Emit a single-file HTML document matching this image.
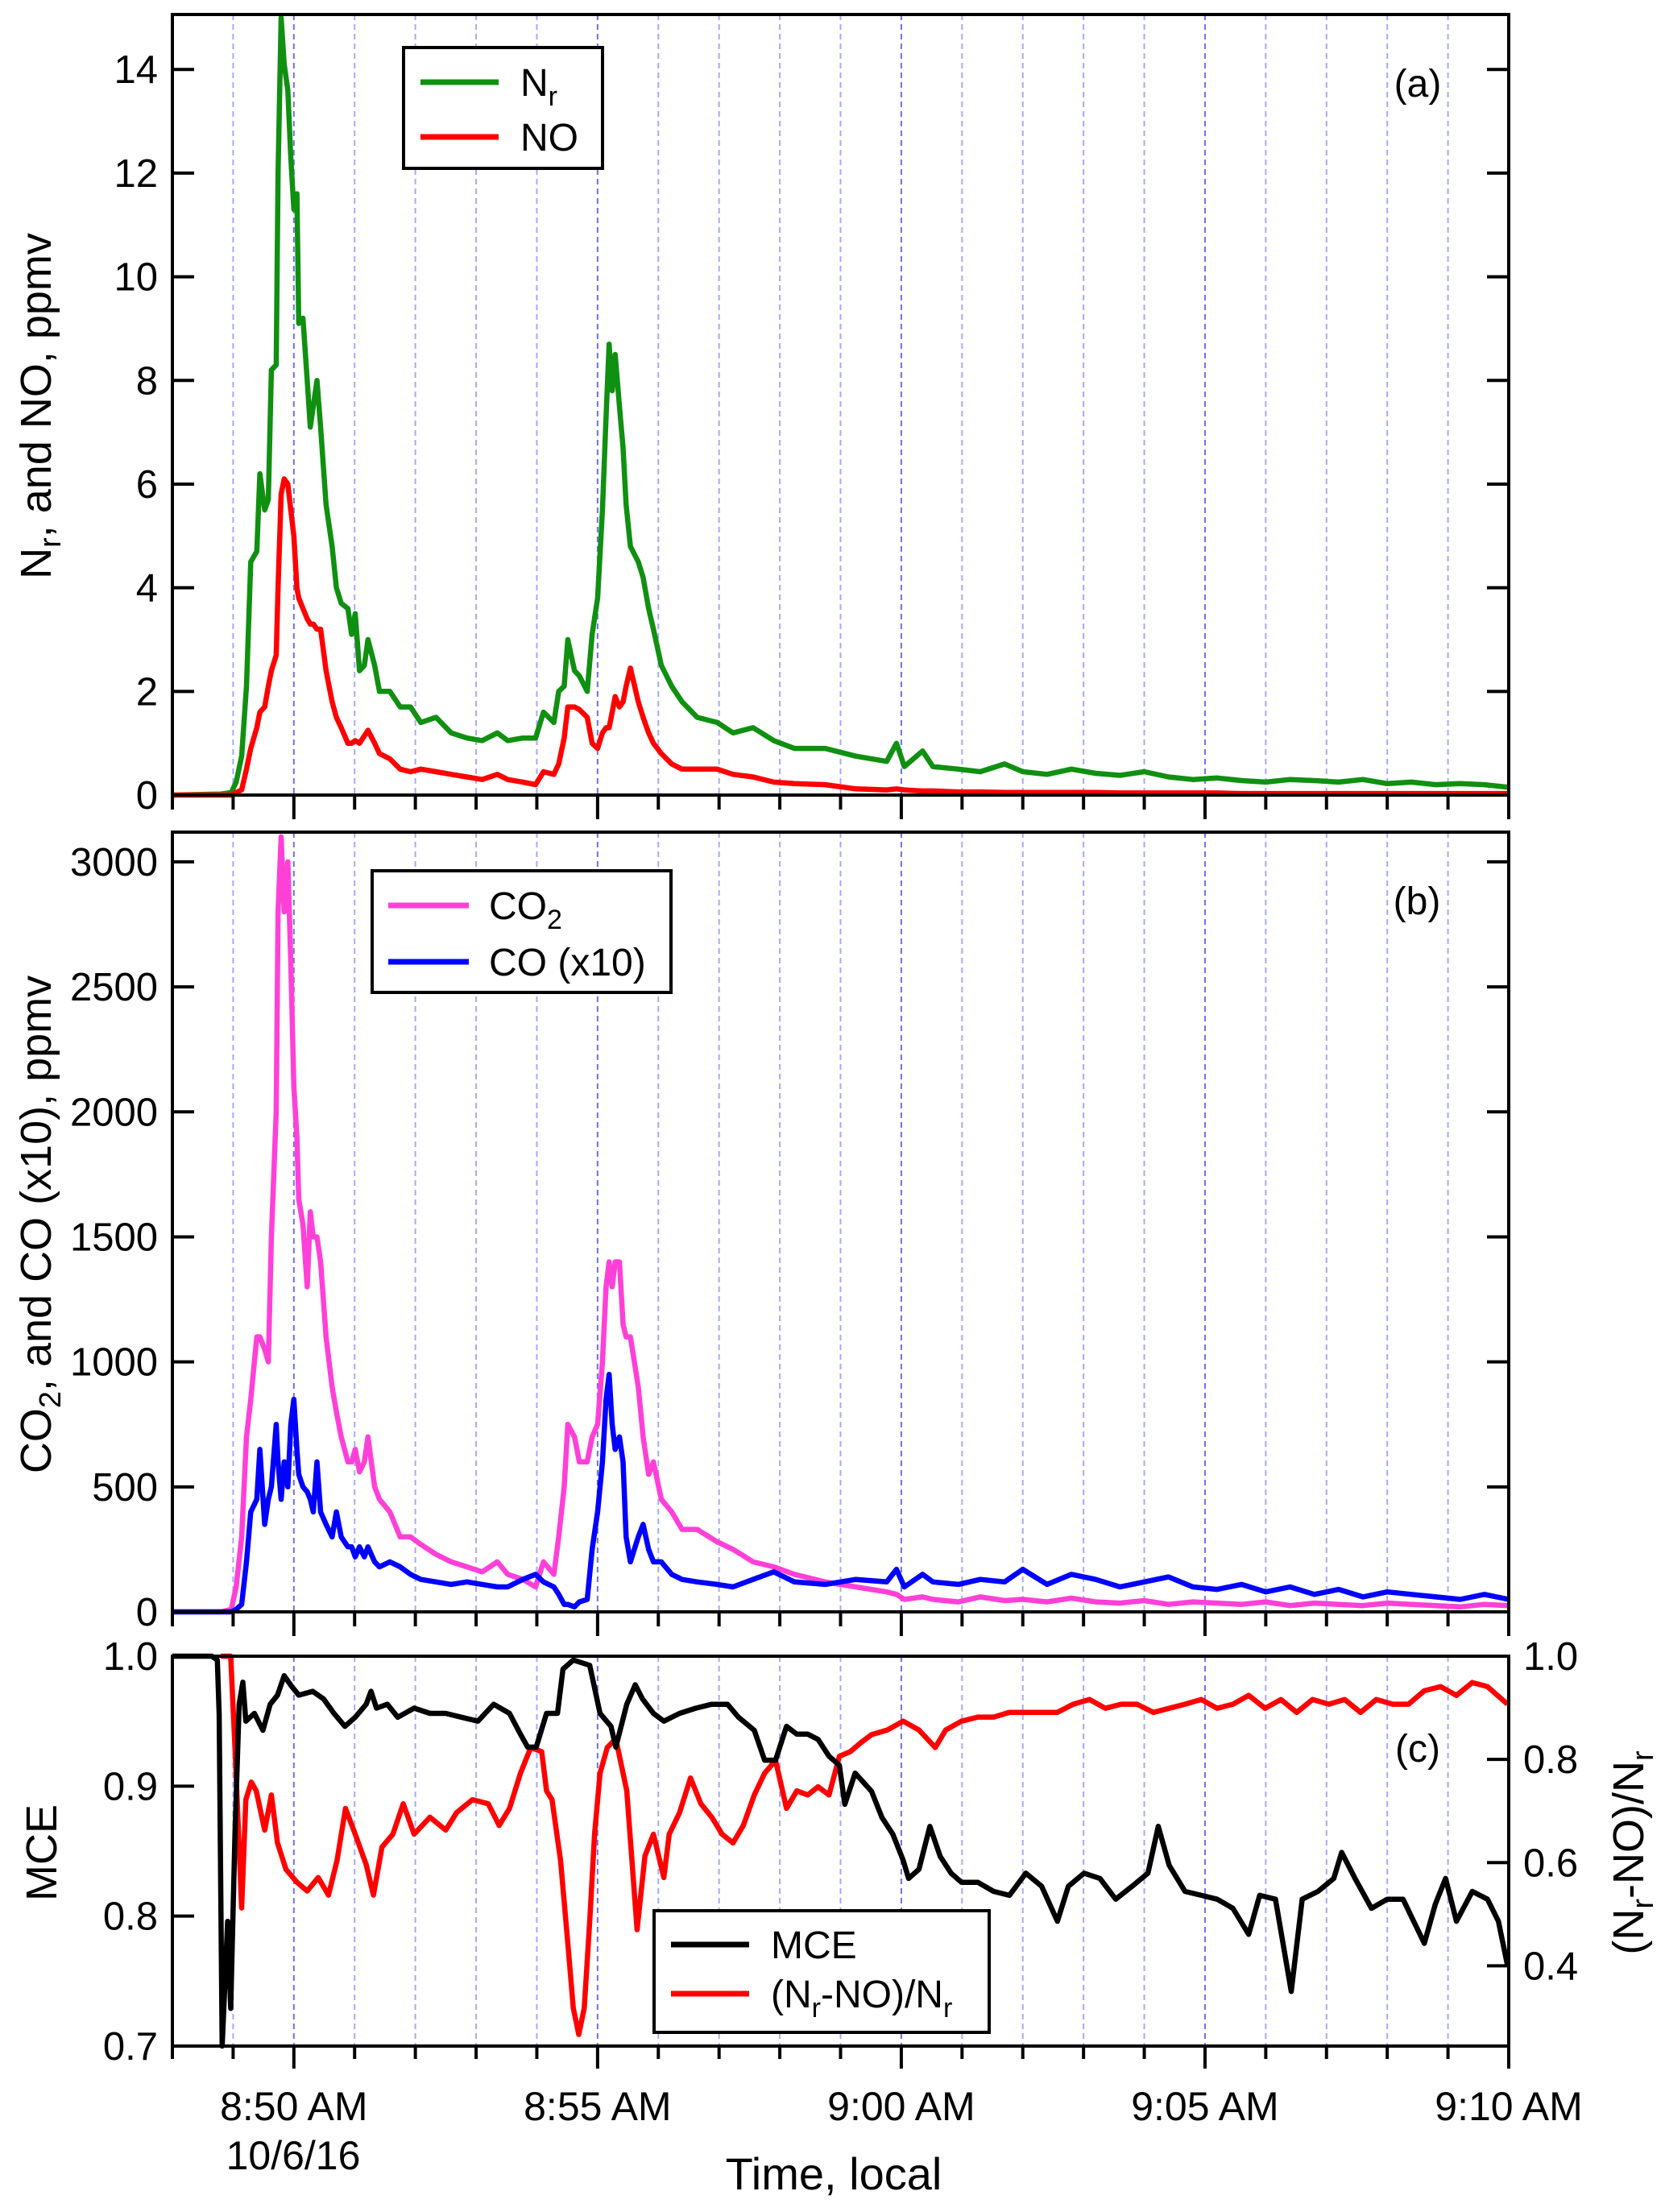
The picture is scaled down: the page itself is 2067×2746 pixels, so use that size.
<!DOCTYPE html>
<html><head><meta charset="utf-8"><style>
html,body{margin:0;padding:0;background:#fff;}
svg{display:block;font-family:"Liberation Sans",Arial,sans-serif;}
</style></head><body>
<svg id="chart" width="2067" height="2746" viewBox="0 0 2067 2746" xmlns="http://www.w3.org/2000/svg">
<g id="grid"></g><g id="series"></g><g id="axes"></g>
<g>
<rect x="501" y="59" width="247" height="150" fill="#fff" stroke="#000" stroke-width="4"/>
<line x1="522" y1="102" x2="619" y2="102" stroke="#109010" stroke-width="7"/>
<text x="646" y="119" font-size="48">N<tspan font-size="34" dy="12">r</tspan></text>
<line x1="522" y1="170" x2="619" y2="170" stroke="#ff0000" stroke-width="7"/>
<text x="646" y="187" font-size="48">NO</text>
</g>
<g>
<rect x="462" y="1081" width="371" height="151" fill="#fff" stroke="#000" stroke-width="4"/>
<line x1="482" y1="1124" x2="582" y2="1124" stroke="#ff40d8" stroke-width="7"/>
<text x="607" y="1141" font-size="48">CO<tspan font-size="34" dy="12">2</tspan></text>
<line x1="482" y1="1194" x2="582" y2="1194" stroke="#0000ff" stroke-width="7"/>
<text x="607" y="1211" font-size="48">CO (x10)</text>
</g>
<g>
<rect x="812" y="2372" width="416" height="151" fill="#fff" stroke="#000" stroke-width="4"/>
<line x1="833" y1="2414" x2="930" y2="2414" stroke="#000" stroke-width="7"/>
<text x="957" y="2431" font-size="48">MCE</text>
<line x1="833" y1="2475" x2="930" y2="2475" stroke="#ff0000" stroke-width="7"/>
<text x="957" y="2492" font-size="48">(N<tspan font-size="34" dy="12">r</tspan><tspan dy="-12">-NO)/N</tspan><tspan font-size="34" dy="12">r</tspan></text>
</g>
<text x="1760" y="120" font-size="48" text-anchor="middle">(a)</text>
<text x="1759" y="1135" font-size="48" text-anchor="middle">(b)</text>
<text x="1760" y="2187" font-size="48" text-anchor="middle">(c)</text>
<text transform="translate(63,504) rotate(-90)" font-size="54" text-anchor="middle">N<tspan font-size="38" dy="12">r</tspan><tspan dy="-12">, and NO, ppmv</tspan></text>
<text transform="translate(63,1520) rotate(-90)" font-size="54" text-anchor="middle">CO<tspan font-size="38" dy="12">2</tspan><tspan dy="-12">, and CO (x10), ppmv</tspan></text>
<text transform="translate(70,2300) rotate(-90)" font-size="54" text-anchor="middle">MCE</text>
<text transform="translate(2040,2300) rotate(-90)" font-size="54" text-anchor="middle">(N<tspan font-size="38" dy="12">r</tspan><tspan dy="-12">-NO)/N</tspan><tspan font-size="38" dy="12">r</tspan></text>
<text x="1035" y="2718" font-size="56" text-anchor="middle">Time, local</text>
<text x="364" y="2693" font-size="50" text-anchor="middle">10/6/16</text>
</svg>
<script>
// times in minutes after 8:48
const tA=[0,0.8,0.97,1.05,1.14,1.22,1.29,1.39,1.44,1.52,1.58,1.63,1.71,1.74,1.79,1.84,1.90,1.95,2.0,2.05,2.08,2.15,2.22,2.27,2.32,2.38,2.44,2.53,2.63,2.70,2.78,2.89,2.95,3.01,3.08,3.16,3.22,3.33,3.41,3.58,3.75,3.92,4.09,4.34,4.59,4.85,5.10,5.35,5.52,5.77,5.98,6.11,6.28,6.36,6.45,6.51,6.62,6.70,6.83,6.91,7.0,7.08,7.14,7.19,7.24,7.29,7.36,7.42,7.47,7.54,7.67,7.75,7.84,7.92,8.05,8.22,8.39,8.64,8.97,9.23,9.56,9.90,10.24,10.75,11.25,11.76,11.92,12.05,12.35,12.52,12.94,13.3,13.7,14.0,14.4,14.8,15.2,15.6,16.0,16.4,16.8,17.2,17.6,18.0,18.4,18.8,19.2,19.6,20.0,20.4,20.8,21.2,21.6,22.0];
const nrVals=[0,0.02,0.05,0.25,0.75,2.1,4.5,4.7,6.2,5.5,5.7,8.2,8.3,12,15,14.1,13.6,12.3,11.3,11.6,9.1,9.2,8.0,7.1,7.5,8.0,7.1,5.6,4.8,4.0,3.7,3.6,3.1,3.5,2.4,2.5,3.0,2.5,2.0,2.0,1.7,1.7,1.4,1.5,1.2,1.1,1.05,1.2,1.05,1.1,1.1,1.6,1.4,2.0,2.1,3.0,2.4,2.3,2.0,3.1,3.8,5.5,7.3,8.7,7.8,8.5,7.5,6.7,5.6,4.8,4.5,4.2,3.6,3.2,2.5,2.1,1.8,1.5,1.4,1.2,1.3,1.05,0.9,0.9,0.75,0.65,1.0,0.55,0.85,0.55,0.5,0.45,0.6,0.45,0.4,0.5,0.42,0.38,0.45,0.35,0.3,0.33,0.28,0.25,0.3,0.28,0.25,0.3,0.22,0.25,0.2,0.22,0.2,0.15];
const noVals=[0,0,0,0.05,0.1,0.5,0.9,1.3,1.6,1.7,2.1,2.4,2.7,4.0,5.8,6.1,6.0,5.5,5.0,4.0,3.8,3.6,3.4,3.3,3.3,3.2,3.2,2.4,1.8,1.5,1.3,1.0,1.0,1.05,1.0,1.14,1.25,1.0,0.8,0.7,0.5,0.45,0.5,0.45,0.4,0.35,0.3,0.4,0.3,0.25,0.2,0.45,0.4,0.6,1.1,1.7,1.7,1.65,1.5,1.0,0.9,1.2,1.3,1.3,1.6,1.9,1.7,1.8,2.1,2.45,1.8,1.5,1.2,1.0,0.8,0.6,0.5,0.5,0.5,0.4,0.35,0.25,0.22,0.2,0.12,0.1,0.12,0.1,0.08,0.08,0.06,0.06,0.05,0.05,0.05,0.05,0.05,0.04,0.04,0.04,0.04,0.04,0.03,0.03,0.03,0.03,0.03,0.03,0.03,0.03,0.03,0.03,0.03,0.03];
const co2Vals=[0,0,10,100,300,700,850,1100,1100,1050,1000,1500,2000,2800,3100,2800,3000,2600,2100,1900,1650,1550,1300,1600,1500,1500,1400,1100,900,800,700,600,600,650,560,600,700,500,450,400,300,300,270,230,200,180,160,200,150,130,100,200,150,300,500,750,700,600,600,700,750,1000,1300,1400,1300,1400,1400,1150,1100,1100,900,700,550,600,450,400,330,330,280,250,200,180,150,120,100,80,70,50,60,50,40,60,45,50,40,55,40,35,45,30,40,35,30,40,25,35,30,25,35,30,25,20,30,25,20];
const coVals=[0,0,0,10,30,200,400,450,650,350,450,500,750,600,450,600,500,750,850,650,550,500,480,450,400,600,400,350,300,400,300,260,260,220,260,220,260,200,180,200,180,150,130,120,110,120,110,100,100,130,150,120,100,70,30,30,20,40,50,250,400,600,850,950,750,650,700,600,300,200,300,350,250,200,200,150,130,120,110,100,130,160,120,110,130,120,170,100,150,120,110,130,120,170,110,150,130,100,120,140,100,90,110,80,100,70,90,60,80,70,60,50,70,50];
const tM=[0,0.65,0.74,0.77,0.82,0.91,0.96,1.03,1.10,1.16,1.21,1.35,1.49,1.61,1.73,1.84,1.96,2.08,2.31,2.49,2.66,2.84,3.01,3.19,3.27,3.36,3.54,3.71,3.98,4.24,4.50,4.76,5.03,5.29,5.55,5.73,5.85,5.99,6.16,6.34,6.43,6.60,6.87,7.04,7.22,7.30,7.48,7.62,7.74,7.92,8.09,8.35,8.62,8.88,9.14,9.32,9.58,9.75,9.93,10.11,10.28,10.46,10.63,10.81,10.98,11.07,11.24,11.51,11.68,11.86,12.03,12.12,12.29,12.47,12.64,12.82,12.99,13.26,13.52,13.78,14.05,14.31,14.57,14.75,15.01,15.27,15.53,15.80,16.06,16.23,16.41,16.67,16.94,17.20,17.46,17.72,17.90,18.16,18.42,18.60,18.86,19.12,19.25,19.47,19.74,20.0,20.26,20.61,20.79,20.96,21.14,21.40,21.65,21.83,21.98];
const mceVals=[1.0,1.0,0.997,0.955,0.7,0.796,0.729,0.863,0.963,0.98,0.95,0.956,0.943,0.963,0.97,0.985,0.977,0.97,0.973,0.967,0.956,0.946,0.953,0.963,0.973,0.96,0.963,0.953,0.96,0.956,0.956,0.953,0.95,0.963,0.956,0.94,0.93,0.93,0.956,0.956,0.99,0.997,0.993,0.956,0.946,0.93,0.963,0.978,0.967,0.956,0.95,0.956,0.96,0.963,0.963,0.953,0.943,0.92,0.92,0.946,0.94,0.94,0.936,0.923,0.916,0.886,0.91,0.896,0.876,0.863,0.843,0.829,0.836,0.869,0.846,0.833,0.826,0.826,0.819,0.816,0.833,0.823,0.796,0.823,0.833,0.829,0.813,0.823,0.833,0.869,0.839,0.819,0.816,0.813,0.806,0.786,0.816,0.813,0.742,0.813,0.819,0.829,0.849,0.829,0.806,0.813,0.813,0.779,0.809,0.829,0.796,0.819,0.813,0.796,0.762];
const tR=[0.8,0.96,1.03,1.14,1.21,1.30,1.38,1.52,1.63,1.73,1.87,2.05,2.22,2.40,2.57,2.71,2.85,3.01,3.19,3.31,3.45,3.63,3.80,3.98,4.24,4.50,4.68,4.94,5.20,5.38,5.55,5.73,5.90,6.08,6.16,6.25,6.39,6.51,6.60,6.69,6.78,6.87,6.95,7.04,7.16,7.30,7.48,7.65,7.78,7.92,8.09,8.18,8.35,8.53,8.70,8.88,9.05,9.23,9.40,9.58,9.75,9.93,10.11,10.28,10.46,10.63,10.81,10.98,11.16,11.33,11.51,11.77,12.03,12.29,12.56,12.73,12.99,13.26,13.52,13.78,14.05,14.31,14.57,14.83,15.10,15.36,15.62,15.88,16.15,16.41,16.67,16.94,17.20,17.46,17.72,17.99,18.25,18.51,18.77,19.04,19.30,19.56,19.82,20.09,20.35,20.61,20.88,21.14,21.40,21.65,21.98];
const ratioVals=[1.0,1.0,0.823,0.512,0.722,0.756,0.739,0.663,0.731,0.638,0.587,0.562,0.545,0.571,0.537,0.604,0.705,0.655,0.596,0.537,0.630,0.655,0.714,0.655,0.688,0.663,0.697,0.722,0.714,0.672,0.705,0.773,0.823,0.815,0.739,0.722,0.604,0.444,0.318,0.267,0.318,0.486,0.655,0.773,0.823,0.840,0.739,0.470,0.613,0.655,0.571,0.655,0.697,0.764,0.714,0.688,0.655,0.638,0.672,0.731,0.773,0.798,0.705,0.739,0.731,0.747,0.731,0.806,0.815,0.832,0.848,0.857,0.874,0.857,0.823,0.857,0.874,0.882,0.882,0.891,0.891,0.891,0.891,0.907,0.916,0.899,0.907,0.907,0.891,0.899,0.907,0.916,0.899,0.907,0.924,0.899,0.916,0.891,0.916,0.907,0.916,0.891,0.916,0.907,0.907,0.933,0.941,0.924,0.949,0.941,0.907];
const aTicks=[0,2,4,6,8,10,12,14];
const bTicks=[0,500,1000,1500,2000,2500,3000];
const cTicks=[0.7,0.8,0.9,1.0];
const rTicks=[0.4,0.6,0.8,1.0];
const xTickLabels=["8:50 AM","8:55 AM","9:00 AM","9:05 AM","9:10 AM"];

const NS="http://www.w3.org/2000/svg";
const X0=214,X1=1873,TMAX=22;
const x=t=>X0+(X1-X0)*t/TMAX;
const panels={a:{top:18,bot:987,min:0,max:15.06},b:{top:1033,bot:2001,min:0,max:3119},c:{top:2056,bot:2540,min:0.7,max:1.0},r:{top:2056,bot:2540,min:0.2445,max:1.0}};
const yf=p=>v=>p.bot-(v-p.min)/(p.max-p.min)*(p.bot-p.top);
function mk(tag,attrs,parent){const e=document.createElementNS(NS,tag);for(const k in attrs)e.setAttribute(k,attrs[k]);parent.appendChild(e);return e;}
const G=document.getElementById('grid'),S=document.getElementById('series'),A=document.getElementById('axes');
['a','b','c'].forEach(k=>{const p=panels[k];
 for(let m=1;m<TMAX;m++){const l=mk('line',{x1:x(m),x2:x(m),y1:p.top,y2:p.bot,stroke:(m+8)%5==0?'#7070f0':'#a8a8ff','stroke-width':2,'stroke-dasharray':'7,5'},G);
  
  }
 const f=mk('rect',{x:X0,y:p.top,width:X1-X0,height:p.bot-p.top,fill:'none',stroke:'#000','stroke-width':4},A);
 
 
 for(let m=0;m<=TMAX;m++){const major=(m+8)%5==0;const len=k=='c'?(major?28:16):(major?30:18);
  const tk=mk('line',{x1:x(m),x2:x(m),y1:p.bot,y2:p.bot+len,stroke:'#000','stroke-width':4},A);
  
  }
});
function labels(p,ticks,fmt,side,mirror){const y=yf(p);ticks.forEach(v=>{const yy=y(v);
 if(side=='l'){const t=mk('text',{x:196,y:yy+17,'font-size':49,'text-anchor':'end'},A);t.textContent=fmt(v);
  
  
  mk('line',{x1:X0,x2:X0+27,y1:yy,y2:yy,stroke:'#000','stroke-width':4},A);
  if(mirror)mk('line',{x1:X1-27,x2:X1,y1:yy,y2:yy,stroke:'#000','stroke-width':4},A);}
 else{const t=mk('text',{x:1891,y:yy+17,'font-size':49,'text-anchor':'start'},A);t.textContent=fmt(v);
  
  
  mk('line',{x1:X1-27,x2:X1,y1:yy,y2:yy,stroke:'#000','stroke-width':4},A);}
});}
labels(panels.a,aTicks,v=>String(v),'l',true);
labels(panels.b,bTicks,v=>String(v),'l',true);
labels(panels.c,cTicks,v=>v.toFixed(1),'l',false);
labels(panels.r,rTicks,v=>v.toFixed(1),'r',false);
xTickLabels.forEach((s,i)=>{const t=mk('text',{x:x(2+5*i),y:2632,'font-size':50,'text-anchor':'middle'},A);t.textContent=s;
 
 });
function line(ts,vs,p,color,name){const y=yf(p);const n=Math.min(ts.length,vs.length);const pts=[];
 for(let i=0;i<n;i++)pts.push(x(ts[i]).toFixed(1)+','+Math.max(p.top,Math.min(p.bot,y(vs[i]))).toFixed(1));
 const l=mk('polyline',{points:pts.join(' '),fill:'none',stroke:color,'stroke-width':6.5,'stroke-linejoin':'round'},S);
 
 }
line(tA,co2Vals,panels.b,'#ff40d8','co2-line');
line(tA,coVals,panels.b,'#0000ff','co-x10-line');
line(tA,nrVals,panels.a,'#109010','nr-line');
line(tA,noVals,panels.a,'#ff0000','no-line');
line(tR,ratioVals,panels.r,'#ff0000','ratio-line');
line(tM,mceVals,panels.c,'#000000','mce-line');
</script>
</body></html>
